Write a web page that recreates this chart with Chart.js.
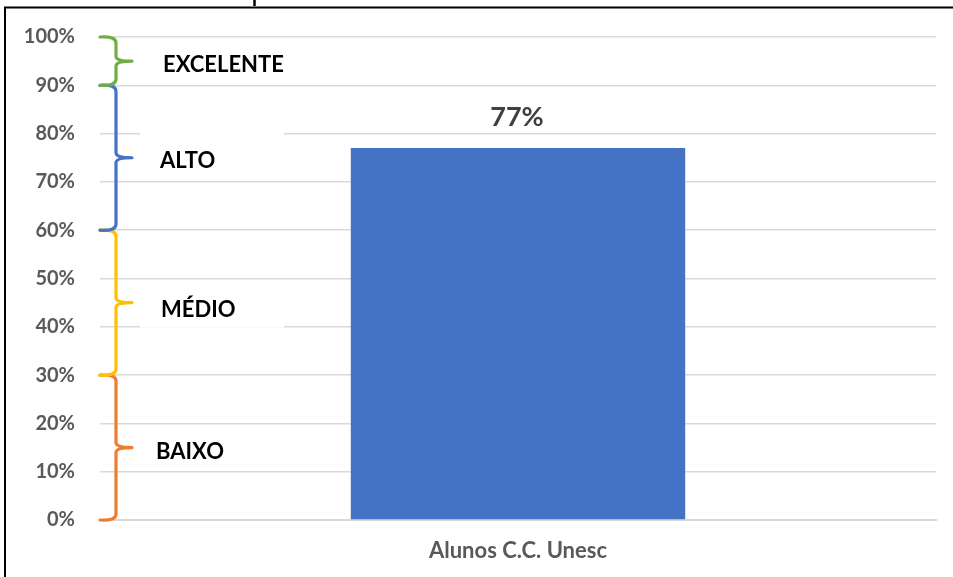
<!DOCTYPE html>
<html>
<head>
<meta charset="utf-8">
<script src="https://cdn.jsdelivr.net/npm/chart.js@4.4.1/dist/chart.umd.min.js"></script>
<style>
  html, body { margin: 0; padding: 0; background: #ffffff; }
  #wrap { width: 953px; height: 577px; position: relative; }
</style>
</head>
<body>
<div id="wrap"><canvas id="c" width="953" height="577"></canvas></div>
<script>
// ---- data ----
const categories = ["Alunos C.C. Unesc"];
const values = [0.77];
const valueLabels = ["77%"];
const tickValues = [0, 0.1, 0.2, 0.3, 0.4, 0.5, 0.6, 0.7, 0.8, 0.9, 1.0];
const bandNames = ["BAIXO", "MÉDIO", "ALTO", "EXCELENTE"];
const bandLower = [0, 0.3, 0.6, 0.9];
const bandUpper = [0.3, 0.6, 0.9, 1.0];
const bandColors = ["#ED7D31", "#FFC000", "#4472C4", "#70AD47"];
const bandBoxed = [false, true, true, false];

const FONT = "Lato, 'Open Sans', 'Liberation Sans', sans-serif";

const decoPlugin = {
  id: 'deco',
  beforeDraw(chart) {
    const ctx = chart.ctx;
    ctx.save();
    ctx.fillStyle = '#ffffff';
    ctx.fillRect(0, 0, chart.width, chart.height);
    ctx.restore();
  },
  afterDraw(chart, args, opts) {
    const ctx = chart.ctx;
    const y = chart.scales.y;
    const area = chart.chartArea;
    ctx.save();
    // outer frame (partly outside the picture)
    ctx.strokeStyle = '#000000';
    ctx.lineWidth = 2;
    ctx.beginPath();
    ctx.moveTo(5, chart.height);
    ctx.lineTo(5, 7.5);
    ctx.lineTo(chart.width, 7.5);
    ctx.stroke();
    // fragment of cut-off title above frame
    ctx.lineWidth = 2.5;
    ctx.beginPath();
    ctx.moveTo(254.5, 0);
    ctx.lineTo(254.5, 6);
    ctx.stroke();

    // braces
    const xEnd = area.left;
    const xV = area.left + 16;
    const xTip = area.left + 32;
    for (let i = 0; i < bandNames.length; i++) {
      const yTop = y.getPixelForValue(bandUpper[i]);
      const yBot = y.getPixelForValue(bandLower[i]);
      const yMid = y.getPixelForValue((bandLower[i] + bandUpper[i]) / 2);
      ctx.strokeStyle = bandColors[i];
      ctx.lineWidth = 3.2;
      ctx.lineJoin = 'round';
      ctx.lineCap = 'round';
      ctx.beginPath();
      ctx.moveTo(xEnd, yTop);
      ctx.quadraticCurveTo(xV, yTop - 1, xV, yTop + 6);
      ctx.lineTo(xV, yMid - 5);
      ctx.quadraticCurveTo(xV, yMid, xTip, yMid);
      ctx.moveTo(xTip, yMid);
      ctx.quadraticCurveTo(xV, yMid, xV, yMid + 5);
      ctx.lineTo(xV, yBot - 6);
      ctx.quadraticCurveTo(xV, yBot + 1, xEnd, yBot);
      ctx.stroke();

      // label box + text
      const ty = yMid + opts.textDy[i];
      const tx = area.left + opts.textDx[i];
      if (bandBoxed[i]) {
        ctx.fillStyle = '#ffffff';
        ctx.fillRect(area.left + 40, ty - 29, 144, 47);
      }
      ctx.font = "bold 22px " + FONT;
      ctx.textBaseline = 'middle';
      ctx.textAlign = 'left';
      ctx.fillStyle = '#000000';
      ctx.fillText(bandNames[i], tx, ty);
    }

    // value label above bar
    const meta = chart.getDatasetMeta(0);
    meta.data.forEach((bar, idx) => {
      ctx.fillStyle = '#404040';
      ctx.font = "bold 27px " + FONT;
      ctx.textAlign = 'center';
      ctx.textBaseline = 'middle';
      ctx.fillText(valueLabels[idx], bar.x - 1, bar.y - 31);
    });
    ctx.restore();
  }
};

new Chart(document.getElementById('c'), {
  type: 'bar',
  data: {
    labels: categories,
    datasets: [{
      data: values,
      backgroundColor: '#4472C4',
      borderWidth: 0,
      categoryPercentage: 1.0,
      barPercentage: 0.4
    }]
  },
  options: {
    responsive: false,
    animation: false,
    events: [],
    layout: { padding: { top: 37, right: 17, bottom: 0, left: 0 } },
    plugins: {
      legend: { display: false }, tooltip: { enabled: false }, title: { display: false },
      deco: { textDy: [4, 7, 3, 4], textDx: [56, 61, 60, 63] }
    },
    scales: {
      x: {
        grid: { display: false, drawTicks: false },
        border: { display: true, color: '#d9d9d9', width: 2 },
        ticks: {
          color: '#595959',
          font: { family: FONT, size: 22, weight: 'bold' },
          padding: 18
        },
        afterFit(scale) { scale.height = 57; }
      },
      y: {
        min: 0,
        max: 1,
        afterBuildTicks(scale) { scale.ticks = tickValues.map(v => ({ value: v })); },
        grid: { color: '#d9d9d9', lineWidth: 1.5, drawTicks: false },
        border: { display: false },
        ticks: {
          color: '#595959',
          font: { family: FONT, size: 20, weight: 'bold' },
          padding: 25,
          callback: (v) => Math.round(v * 100) + '%'
        },
        afterFit(scale) { scale.width = 100; }
      }
    }
  },
  plugins: [decoPlugin]
});
</script>
</body>
</html>
